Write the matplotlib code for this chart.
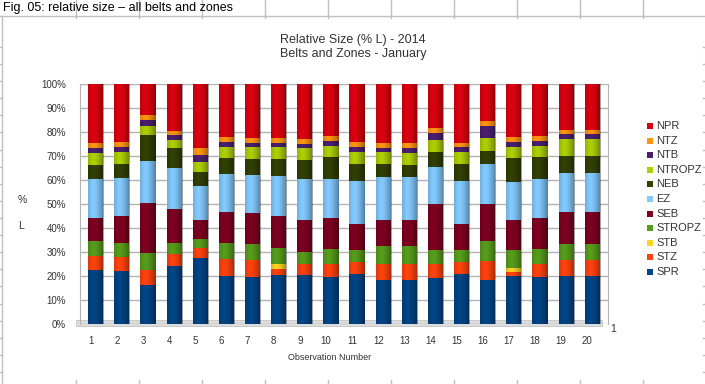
import matplotlib.pyplot as plt
import matplotlib.transforms as mtransforms
from matplotlib.lines import Line2D
from matplotlib.patches import Rectangle
import numpy as np

plt.rcParams['font.family'] = ['Liberation Sans', 'DejaVu Sans']

W, H = 705, 384

observations = [str(i) for i in range(1, 21)]
series_names = ['SPR', 'STZ', 'STB', 'STROPZ', 'SEB', 'EZ', 'NEB', 'NTROPZ', 'NTB', 'NTZ', 'NPR']
series_colors = ['#004586', '#ff420e', '#ffd320', '#579d1c', '#7e0021', '#83caff',
                 '#314004', '#aecf00', '#4b1f6f', '#ff950e', '#dd0010']

# percent of L, one value per observation
spr    = [22.4, 22.0, 16.1, 24.1, 27.6, 20.1, 19.6, 20.3, 20.3, 19.4, 21.0, 18.2, 18.2, 19.2, 21.0, 18.2, 20.1, 19.4, 20.1, 20.1]
stz    = [5.9, 6.0, 6.6, 4.9, 4.0, 6.8, 7.0, 2.8, 4.9, 5.8, 4.9, 7.0, 7.0, 5.8, 4.9, 8.2, 1.4, 5.8, 6.5, 6.5]
stb    = [0, 0, 0, 0, 0, 0, 0, 1.7, 0, 0, 0, 0, 0, 0, 0, 0, 1.9, 0, 0, 0]
stropz = [6.1, 5.9, 6.8, 4.9, 3.7, 6.8, 6.8, 7.0, 5.0, 6.1, 5.0, 7.1, 7.1, 5.9, 5.0, 8.0, 7.5, 6.1, 6.8, 6.8]
seb    = [9.8, 11.0, 21.0, 14.1, 8.2, 12.9, 12.9, 13.1, 13.0, 12.9, 10.9, 10.9, 10.9, 18.9, 10.9, 15.8, 12.6, 12.9, 13.2, 13.2]
ez     = [16.1, 15.8, 17.5, 16.8, 14.0, 15.8, 15.8, 16.8, 17.1, 16.1, 17.8, 18.1, 18.1, 15.8, 17.8, 16.4, 15.7, 16.1, 16.5, 16.5]
neb    = [6.0, 5.9, 10.8, 8.6, 5.9, 6.6, 6.6, 7.0, 8.0, 9.1, 7.0, 5.3, 5.0, 5.9, 7.0, 5.6, 9.8, 9.1, 6.7, 6.7]
ntropz = [4.9, 4.9, 3.9, 3.3, 3.9, 4.9, 4.9, 4.9, 5.1, 4.9, 4.9, 4.9, 4.9, 5.2, 4.9, 5.2, 4.9, 4.9, 7.1, 7.1]
ntb    = [2.2, 2.1, 2.2, 2.1, 3.1, 1.8, 1.9, 1.9, 1.6, 2.1, 2.1, 1.9, 2.2, 2.8, 2.1, 5.1, 1.8, 2.1, 2.1, 2.1]
ntz    = [2.1, 2.1, 2.1, 1.6, 3.0, 2.1, 2.1, 2.1, 2.1, 1.9, 2.1, 2.1, 2.1, 2.1, 1.9, 2.0, 2.1, 1.9, 1.7, 2.0]
npr    = [24.5, 24.3, 13.0, 19.6, 26.6, 22.2, 22.4, 22.4, 22.9, 21.7, 24.3, 24.5, 24.5, 18.4, 24.5, 15.5, 22.2, 21.7, 19.3, 19.0]

series = [spr, stz, stb, stropz, seb, ez, neb, ntropz, ntb, ntz, npr]
yticks = np.arange(0, 101, 10)

fig = plt.figure(figsize=(W / 100, H / 100), dpi=100)


def fx(px):
    return px / W


def fy(py):
    return 1 - py / H


# spreadsheet cells behind the chart
grid_c = '#c0c0c0'
fig.add_artist(Line2D([0, 1], [fy(16), fy(16)], color=grid_c, lw=1))
for cx in 76 + 63 * np.arange(10):
    fig.add_artist(Line2D([fx(cx), fx(cx)], [fy(0), fy(18)], color=grid_c, lw=1))
    fig.add_artist(Line2D([fx(cx), fx(cx)], [fy(380), fy(384)], color=grid_c, lw=1))
fig.add_artist(Line2D([fx(2), fx(2)], [fy(16), fy(384)], color=grid_c, lw=1))
for ry in 47 + 17.1 * np.arange(20):
    if ry < 384:
        fig.add_artist(Line2D([fx(0), fx(2)], [fy(ry), fy(ry)], color=grid_c, lw=1))
        fig.add_artist(Line2D([fx(703), fx(705)], [fy(ry), fy(ry)], color=grid_c, lw=1))
fig.text(fx(3), fy(8), 'Fig. 05: relative size \u2013 all belts and zones',
         fontsize=9, va='center', ha='left', color='#000000')

# floor under the bars
fig.add_artist(Rectangle((fx(76), fy(326)), fx(602 - 76), fy(320) - fy(326),
                         facecolor='#dcdcdc', edgecolor='#c4c4c4', lw=0.6, zorder=0))

# chart
ax = fig.add_axes([fx(80), fy(324), fx(608 - 80), fy(84) - fy(324)])
ax.patch.set_visible(False)
x = np.arange(1, len(observations) + 1)
bw = 0.58
bottom = np.zeros(len(x))
for vals, name, col in zip(series, series_names, series_colors):
    ax.bar(x, vals, bottom=bottom, width=bw, color=col, label=name, zorder=3)
    bottom += np.array(vals)

# cylinder shading
shade = np.zeros((1, 64, 4))
t = np.linspace(0, 1, 64)
shade[0, :, 3] = 0.38 * np.clip(np.abs(t - 0.35) / 0.65, 0, 1) ** 1.5
for xi, top in zip(x, bottom):
    ax.imshow(shade, extent=[xi - bw / 2, xi + bw / 2, 0, top], aspect='auto', zorder=4)

ax.set_xlim(0.40, 20.6)
ax.set_ylim(0, 100)
ax.set_yticks(yticks)
ax.set_yticklabels(['%d%%' % v for v in yticks])
ax.set_xticks(x)
ax.set_xticklabels(observations)
ax.grid(axis='y', color='#b3b3b3', lw=1, zorder=0)
ax.tick_params(length=0, labelsize=7, colors='#333333')
ax.tick_params(axis='y', pad=10)
ax.tick_params(axis='x', pad=9)
off = mtransforms.ScaledTranslation(-5 / 100, 0, fig.dpi_scale_trans)
for lab in ax.get_xticklabels():
    lab.set_transform(lab.get_transform() + off)
for s in ['top', 'bottom']:
    ax.spines[s].set_visible(False)
for s in ['left', 'right']:
    ax.spines[s].set_color('#b3b3b3')

fig.text(fx(353), fy(40), 'Relative Size (% L) - 2014', fontsize=9, ha='center', va='center', color='#333333')
fig.text(fx(353), fy(54), 'Belts and Zones - January', fontsize=9, ha='center', va='center', color='#333333')
fig.text(fx(22), fy(200), '%', fontsize=7.5, ha='center', va='center', color='#333333')
fig.text(fx(21), fy(226), 'L', fontsize=7.5, ha='center', va='center', color='#333333')
fig.text(fx(330), fy(357), 'Observation Number', fontsize=6.5, ha='center', va='center', color='#333333')
fig.text(fx(613), fy(329), '1', fontsize=7.5, ha='center', va='center', color='#333333')

# legend, top entry first
for i, (name, col) in enumerate(zip(series_names[::-1], series_colors[::-1])):
    ly = 126 + i * 14.6
    fig.add_artist(Rectangle((fx(647), fy(ly + 3)), fx(6), fy(ly - 3) - fy(ly + 3),
                             facecolor=col, edgecolor='none'))
    fig.text(fx(656), fy(ly), name, fontsize=8, ha='left', va='center', color='#333333')

fig.savefig('out.png', dpi=100)
